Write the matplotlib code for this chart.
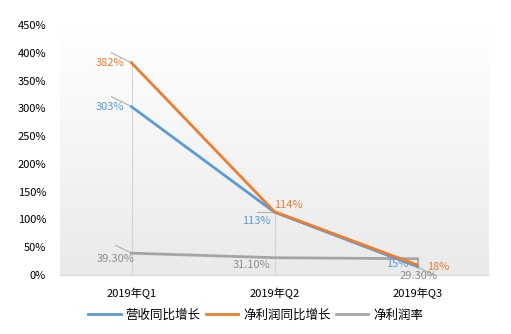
import numpy as np
import matplotlib.pyplot as plt
from matplotlib.colors import LinearSegmentedColormap

plt.rcParams['font.family'] = ['Noto Sans CJK SC', 'DejaVu Sans']

quarters = ['2019年Q1', '2019年Q2', '2019年Q3']
revenue_yoy = [303, 113, 15]
profit_yoy = [382, 114, 18]
net_margin = [39.3, 31.1, 29.3]

revenue_labels = ['303%', '113%', '15%']
profit_labels = ['382%', '114%', '18%']
margin_labels = ['39.30%', '31.10%', '29.30%']

blue = '#5B9BD5'
orange = '#ED7D31'
gray = '#A5A5A5'

fig = plt.figure(figsize=(5.11, 3.34), dpi=100)
ax = fig.add_axes([60 / 511, 1 - 275 / 334, 429 / 511, 250 / 334])

x = np.arange(len(quarters))
ax.set_xlim(-0.5, 2.5)
ax.set_ylim(0, 450)

# soft vertical gradient behind the plot area: white at top, light gray at bottom
grad = np.linspace(0, 1, 256).reshape(-1, 1)
cmap = LinearSegmentedColormap.from_list('bg', ['#ffffff', '#eaeaea'])
ax.imshow(grad, extent=[-0.5, 2.5, 0, 450], aspect='auto', cmap=cmap,
          vmin=0, vmax=1, zorder=0, origin='upper')

# drop lines
for xi, top in zip(x, np.maximum(np.maximum(revenue_yoy, profit_yoy), net_margin)):
    ax.plot([xi, xi], [0, top], color='#d4d4d4', lw=0.8, zorder=1)

ax.plot(x, net_margin, color=gray, lw=2, zorder=2)
ax.plot(x, revenue_yoy, color=blue, lw=2, zorder=3)
ax.plot(x, profit_yoy, color=orange, lw=2, zorder=4)

fs = 8
lead = dict(color='#b0b0b0', lw=0.8, zorder=1.5)

# Q1 labels with leader lines
ax.plot([-0.14, 0], [profit_yoy[0] + 18, profit_yoy[0]], **lead)
ax.text(-0.05, profit_yoy[0], profit_labels[0], color=orange, fontsize=fs,
        ha='right', va='center')
ax.plot([-0.14, 0], [revenue_yoy[0] + 18, revenue_yoy[0]], **lead)
ax.text(-0.05, revenue_yoy[0], revenue_labels[0], color=blue, fontsize=fs,
        ha='right', va='center')
ax.plot([-0.11, 0], [net_margin[0] + 14, net_margin[0]], **lead)
ax.text(-0.11, net_margin[0] - 2, margin_labels[0], color='#8c8c8c',
        fontsize=fs, ha='center', va='top')

# Q2 labels
ax.text(0.995, profit_yoy[1] + 3, profit_labels[1], color=orange, fontsize=fs,
        ha='left', va='bottom')
ax.plot([0.88, 1], [revenue_yoy[1], revenue_yoy[1]], **lead)
ax.text(0.97, revenue_yoy[1] - 6, revenue_labels[1], color=blue, fontsize=fs,
        ha='right', va='top')
ax.text(0.97, net_margin[1] - 5, margin_labels[1], color='#8c8c8c',
        fontsize=fs, ha='right', va='top')

# Q3 labels
ax.plot([2, 2], [revenue_yoy[2] + 2, net_margin[2]], color='#a0a0a0', lw=1.2, zorder=1.5)
ax.plot([2, 2.12], [profit_yoy[2] - 4, 0], **lead)
ax.text(2.07, profit_yoy[2] - 4, profit_labels[2], color=orange, fontsize=fs,
        ha='left', va='center')
ax.text(1.94, revenue_yoy[2] + 4, revenue_labels[2], color=blue, fontsize=fs,
        ha='right', va='center')
ax.text(2.01, -2, margin_labels[2], color='#8c8c8c',
        fontsize=fs, ha='center', va='center')

ax.set_xticks(x)
ax.set_xticklabels(quarters, fontsize=fs)
ax.set_yticks(np.arange(0, 451, 50))
ax.set_yticklabels([f'{v}%' for v in range(0, 451, 50)], fontsize=fs)
ax.tick_params(length=0, pad=10)
ax.tick_params(axis='x', pad=9)
for side in ['top', 'right', 'left']:
    ax.spines[side].set_visible(False)
ax.spines['bottom'].set_color('#d9d9d9')

handles = [plt.Line2D([], [], color=c, lw=2) for c in (blue, orange, gray)]
fig.legend(handles, ['营收同比增长', '净利润同比增长', '净利润率'],
           loc='center', bbox_to_anchor=(0.5, 1 - 315 / 334), ncol=3,
           frameon=False, fontsize=9, handlelength=2.6, handletextpad=0.4,
           columnspacing=0.4)

fig.savefig('out.png', dpi=100)
